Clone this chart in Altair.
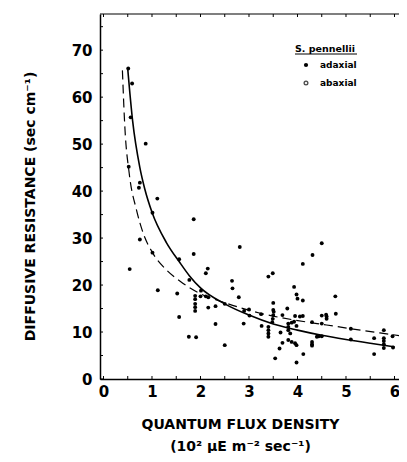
import altair as alt
import pandas as pd

# Adaxial observations (quantum flux density, 10^2 uE m-2 s-1 ; diffusive resistance, s cm-1)
adaxial_x = [0.51, 0.59, 0.56, 0.87, 0.52, 0.75, 0.73, 1.11, 1.01, 1.86,
             0.75, 1.01, 1.86, 1.56, 0.54, 2.15, 2.11, 1.77, 1.12, 2.01,
             1.52, 1.89, 2.00, 2.11, 2.16, 1.89, 1.89, 1.89, 1.89, 2.16,
             1.56, 1.76, 1.91, 2.81, 4.11, 2.65, 2.66, 3.40, 3.49, 3.93,
             3.98, 4.00, 4.11, 2.79, 2.31, 2.50, 2.31, 2.50, 2.90, 3.00,
             3.01, 2.89, 3.25, 3.26, 3.50, 3.50, 3.51, 3.50, 3.49, 3.48,
             3.40, 3.40, 3.40, 3.40, 3.69, 3.79, 3.65, 3.69, 3.63, 3.54,
             3.81, 3.81, 3.81, 3.85, 3.81, 3.88, 3.95, 3.98, 3.88, 3.93,
             3.98, 3.95, 4.05, 3.98, 4.12, 4.50, 4.31, 4.78, 4.79, 4.50,
             4.59, 4.60, 4.60, 4.11, 4.30, 4.50, 4.40, 4.44, 4.50, 4.30,
             4.30, 4.30, 5.10, 5.10, 5.58, 5.58, 5.78, 5.78, 5.78, 5.78,
             5.78, 5.96, 5.97]
adaxial_y = [66.1, 62.9, 55.7, 50.1, 45.2, 41.8, 40.7, 38.4, 35.4, 34.0,
             29.7, 26.9, 26.6, 25.5, 23.4, 23.5, 22.5, 21.1, 18.9, 18.8,
             18.2, 17.7, 17.6, 17.6, 17.4, 17.0, 16.0, 15.3, 14.5, 15.2,
             13.2, 9.0, 8.9, 28.1, 24.5, 20.9, 19.3, 21.8, 22.5, 19.6,
             18.0, 17.1, 16.7, 17.4, 15.5, 16.0, 11.7, 7.2, 14.5, 14.8,
             13.5, 11.8, 13.8, 11.3, 16.2, 14.7, 14.3, 13.6, 12.8, 12.1,
             11.1, 10.4, 9.7, 9.0, 13.6, 15.0, 9.9, 7.7, 6.5, 4.4,
             11.8, 11.1, 10.4, 9.7, 8.3, 7.9, 7.6, 7.2, 12.0, 12.2,
             11.3, 13.4, 13.3, 3.5, 5.3, 28.9, 26.4, 17.6, 13.9, 13.5,
             13.7, 13.3, 12.8, 13.4, 12.1, 11.8, 9.0, 9.1, 9.1, 7.9,
             7.4, 7.1, 10.7, 8.4, 8.7, 5.3, 10.4, 8.7, 8.1, 7.4,
             6.6, 9.1, 6.7]

# Fitted curves
solid_x = [0.50, 0.60, 0.75, 0.85, 1.00, 1.30, 1.56, 1.77, 2.00, 2.50,
           3.00, 3.50, 4.00, 4.50, 5.00, 5.50, 6.00]
solid_y = [66.0, 55.0, 45.0, 40.5, 35.5, 29.0, 25.0, 22.0, 19.4, 16.0,
           13.6, 11.7, 10.4, 9.3, 8.4, 7.6, 6.85]
dashed_x = [0.39, 0.44, 0.53, 0.68, 0.82, 1.01, 1.30, 1.58, 1.95, 2.54,
            3.23, 3.91, 4.60, 5.10, 5.70, 6.20]
dashed_y = [65.7, 53.7, 43.8, 36.0, 31.0, 26.9, 23.2, 20.8, 18.4, 16.1,
            14.0, 12.6, 11.5, 10.7, 9.8, 9.1]

x_labels = [0, 1, 2, 3, 4, 5, 6]
y_labels = [0, 10, 20, 30, 40, 50, 60, 70]
x_minor = [0, 0.5, 1, 1.5, 2, 2.5, 3, 3.5, 4, 4.5, 5, 5.5, 6]
y_minor = [0, 5, 10, 15, 20, 25, 30, 35, 40, 45, 50, 55, 60, 65, 70, 75]

legend_title = "S. pennellii"
legend_labels = ["adaxial", "abaxial"]

W, H = 299, 365
FONT = "DejaVu Sans"

xscale = alt.Scale(domain=[-0.072, 6.093], nice=False, zero=False)
yscale = alt.Scale(domain=[0, 77.7], nice=False, zero=False)

pts = pd.DataFrame({"q": adaxial_x, "r": adaxial_y})
sol = pd.DataFrame({"q": solid_x, "r": solid_y})
dsh = pd.DataFrame({"q": dashed_x, "r": dashed_y})
xm = pd.DataFrame({"q": x_minor})
ym = pd.DataFrame({"r": y_minor})
one = pd.DataFrame({"k": [0]})

xax = alt.Axis(values=x_labels, format="d", title=["QUANTUM  FLUX  DENSITY", "(10² μE  m⁻²  sec⁻¹)"],
               titleX=140, titleY=38, titleAlign="center", titleBaseline="top",
               titleLineHeight=22, labelPadding=5)
yax = alt.Axis(values=y_labels, format="d", title="DIFFUSIVE  RESISTANCE (sec cm⁻¹)",
               titleX=-70, titleY=192, titleAngle=-90, titleAlign="center",
               titleBaseline="middle", labelPadding=8)

X = alt.X("q:Q", scale=xscale, axis=xax)
Y = alt.Y("r:Q", scale=yscale, axis=yax)

points = alt.Chart(pts).mark_circle(size=15, color="black", opacity=1).encode(x=X, y=Y)

solid = alt.Chart(sol).mark_line(color="black", strokeWidth=1.6, interpolate="monotone").encode(x=X, y=Y)
dashed = alt.Chart(dsh).mark_line(color="black", strokeWidth=1.2, strokeDash=[9, 5],
                                  interpolate="monotone").encode(x=X, y=Y)

tick_bottom = alt.Chart(xm).mark_rule(color="black", strokeWidth=1).encode(
    x=X, y=alt.value(H), y2=alt.value(H - 3))
tick_top = alt.Chart(xm).mark_rule(color="black", strokeWidth=1).encode(
    x=X, y=alt.value(0), y2=alt.value(3))
tick_left = alt.Chart(ym).mark_rule(color="black", strokeWidth=1).encode(
    y=Y, x=alt.value(0), x2=alt.value(3))
top_line = alt.Chart(one).mark_rule(color="black", strokeWidth=1.2).encode(
    x=alt.value(0), x2=alt.value(W), y=alt.value(0))

leg_title = alt.Chart(one).mark_text(font=FONT, fontWeight="bold", fontSize=9.5, align="left",
                                     baseline="middle", color="black").encode(
    x=alt.value(195), y=alt.value(35), text=alt.value(legend_title))
leg_line = alt.Chart(one).mark_rule(color="black", strokeWidth=1).encode(
    x=alt.value(195), x2=alt.value(257), y=alt.value(40))
leg_dot1 = alt.Chart(one).mark_circle(size=18, color="black", opacity=1).encode(
    x=alt.value(206), y=alt.value(51))
leg_dot2 = alt.Chart(one).mark_point(size=14, color="black", strokeWidth=1.3, filled=False).encode(
    x=alt.value(206), y=alt.value(69))
leg_t1 = alt.Chart(one).mark_text(font=FONT, fontWeight="bold", fontSize=9, align="left",
                                  baseline="middle", color="black").encode(
    x=alt.value(220), y=alt.value(51), text=alt.value(legend_labels[0]))
leg_t2 = alt.Chart(one).mark_text(font=FONT, fontWeight="bold", fontSize=9, align="left",
                                  baseline="middle", color="black").encode(
    x=alt.value(220), y=alt.value(69), text=alt.value(legend_labels[1]))

chart = alt.layer(
    points, solid, dashed, tick_bottom, tick_top, tick_left, top_line,
    leg_title, leg_line, leg_dot1, leg_dot2, leg_t1, leg_t2,
).properties(
    width=W, height=H,
    padding={"left": 92, "top": 6, "right": 0, "bottom": 74},
    autosize=alt.AutoSizeParams(type="none"),
    background="white",
).configure_view(stroke=None).configure_axis(
    grid=False, ticks=False, domainColor="black", domainWidth=1.5,
    labelFont=FONT, labelFontWeight="bold", labelFontSize=15, labelColor="black",
    titleFont=FONT, titleFontWeight="bold", titleFontSize=14, titleColor="black",
)

chart.save("out.html", embed_options={"renderer": "svg", "actions": False})
